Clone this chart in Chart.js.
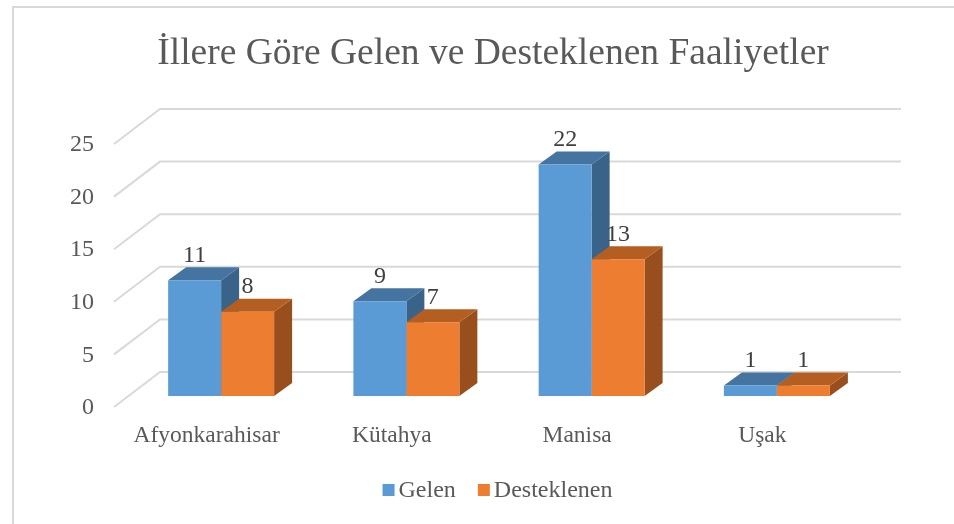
<!DOCTYPE html>
<html lang="tr">
<head>
<meta charset="utf-8">
<title>İllere Göre Gelen ve Desteklenen Faaliyetler</title>
<script src="https://cdn.jsdelivr.net/npm/chart.js@4"></script>
<style>
  html, body { margin: 0; padding: 0; background: #fff; }
  #wrap { width: 954px; height: 524px; }
</style>
</head>
<body>
<div id="wrap"><canvas id="chart"></canvas></div>
<script>
const categories = ['Afyonkarahisar', 'Kütahya', 'Manisa', 'Uşak'];
const gelen = [11, 9, 22, 1];
const desteklenen = [8, 7, 13, 1];
const seriesNames = ['Gelen', 'Desteklenen'];

const serif = '"Liberation Serif", "Times New Roman", serif';
const textColor = '#595959';
const gridColor = '#d9d9d9';

// full depth of the plot box and the smaller depth of a bar (pixels)
const boxDepth = { x: 46, y: -35 };
const barDepth = { x: 18, y: -13 };
const barShift = { x: 14.5, y: -11 };

const shades = [
  { top: '#44749f', side: '#3a6389' },
  { top: '#b55e22', side: '#984f1d' }
];

function poly(ctx, pts, color) {
  ctx.fillStyle = color;
  ctx.beginPath();
  pts.forEach((p, i) => i ? ctx.lineTo(p[0], p[1]) : ctx.moveTo(p[0], p[1]));
  ctx.closePath();
  ctx.fill();
}

// frame, back wall lines and the diagonals on the left side
const wallPlugin = {
  id: 'wall',
  beforeDatasetsDraw(chart) {
    const { ctx, chartArea, scales } = chart;
    ctx.save();
    ctx.strokeStyle = gridColor;
    ctx.lineWidth = 2;
    ctx.beginPath();
    ctx.moveTo(13, 524);
    ctx.lineTo(13, 7);
    ctx.lineTo(954, 7);
    ctx.stroke();
    scales.y.ticks.forEach(t => {
      const py = scales.y.getPixelForValue(t.value);
      ctx.beginPath();
      ctx.moveTo(chartArea.left, py);
      ctx.lineTo(chartArea.left + boxDepth.x, py + boxDepth.y);
      ctx.lineTo(chartArea.right + boxDepth.x, py + boxDepth.y);
      ctx.stroke();
    });
    ctx.restore();

    // bars sit inside the box, so everything from here on is shifted back
    ctx.save();
    ctx.translate(barShift.x, barShift.y);
    chart.data.datasets.forEach((ds, i) => {
      chart.getDatasetMeta(i).data.forEach(bar => {
        const l = bar.x - bar.width / 2, r = bar.x + bar.width / 2;
        const dx = barDepth.x, dy = barDepth.y;
        poly(ctx, [[r, bar.y], [r + dx, bar.y + dy], [r + dx, bar.base + dy], [r, bar.base]], shades[i].side);
        poly(ctx, [[l, bar.y], [l + dx, bar.y + dy], [r + dx, bar.y + dy], [r, bar.y]], shades[i].top);
      });
    });
  },
  afterDatasetsDraw(chart) {
    const { ctx } = chart;
    ctx.font = '24px ' + serif;
    ctx.fillStyle = '#404040';
    ctx.textAlign = 'center';
    ctx.textBaseline = 'middle';
    chart.data.datasets.forEach((ds, i) => {
      chart.getDatasetMeta(i).data.forEach((bar, j) => {
        ctx.fillText(ds.data[j], bar.x, bar.y - 25);
      });
    });
    ctx.restore();

    // legend: Chart.js puts a wider gap between box and text, so it is drawn here
    ctx.save();
    ctx.font = '24px ' + serif;
    ctx.textAlign = 'left';
    ctx.textBaseline = 'alphabetic';
    const sets = chart.data.datasets;
    const widths = sets.map(ds => ctx.measureText(ds.label).width);
    const total = widths.reduce((a, b) => a + b + 16, 0) + 22 * (sets.length - 1);
    let x = 497.5 - total / 2;
    sets.forEach((ds, i) => {
      ctx.fillStyle = ds.backgroundColor;
      ctx.fillRect(x, 484, 12, 12);
      ctx.fillStyle = textColor;
      ctx.fillText(ds.label, x + 16, 497);
      x += 16 + widths[i] + 22;
    });
    ctx.restore();
  }
};

new Chart(document.getElementById('chart'), {
  type: 'bar',
  data: {
    labels: categories,
    datasets: [
      { label: seriesNames[0], data: gelen, backgroundColor: '#5b9bd5', clip: false },
      { label: seriesNames[1], data: desteklenen, backgroundColor: '#ed7d31', clip: false }
    ]
  },
  options: {
    responsive: true,
    maintainAspectRatio: false,
    animation: false,
    categoryPercentage: 0.572,
    barPercentage: 1,
    layout: { padding: { left: 32, right: 0, top: 0, bottom: 0 } },
    scales: {
      x: {
        grid: { display: false },
        border: { display: false },
        ticks: { color: textColor, font: { family: serif, size: 23.5 }, maxRotation: 0, padding: 7 },
        afterFit(s) { s.height = 117; }
      },
      y: {
        min: 0,
        max: 25,
        grid: { display: false, drawTicks: false },
        border: { display: false },
        ticks: { stepSize: 5, color: textColor, font: { family: serif, size: 24 }, padding: 20, labelOffset: 1 },
        afterFit(s) { s.width = 82; }
      },
      // empty axis, only keeps the room right of the plot box
      spacer: {
        type: 'linear',
        position: 'right',
        min: 0,
        max: 1,
        grid: { display: false },
        border: { display: false },
        ticks: { display: false },
        afterFit(s) { s.width = 99; }
      }
    },
    plugins: {
      title: {
        display: true,
        text: 'İllere Göre Gelen ve Desteklenen Faaliyetler',
        color: textColor,
        font: { family: serif, size: 37.5, weight: 'normal' },
        padding: { top: 32, bottom: 67 }
      },
      legend: { display: false },
      tooltip: { enabled: false }
    }
  },
  plugins: [wallPlugin]
});
</script>
</body>
</html>
